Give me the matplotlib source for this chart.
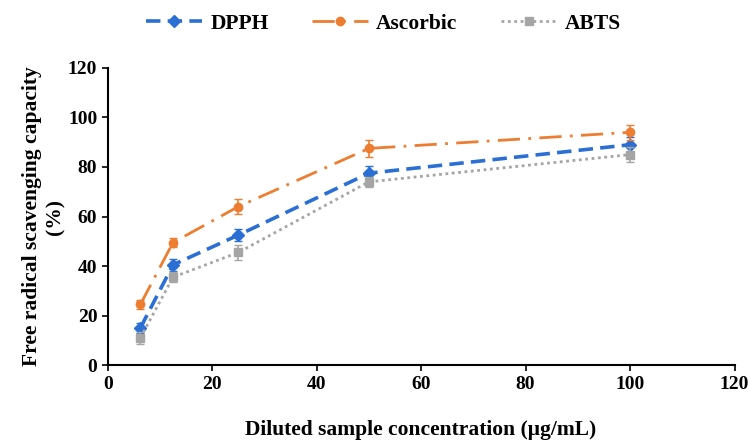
import matplotlib.pyplot as plt

conc = [6.25, 12.5, 25, 50, 100]

dpph = [15, 40.5, 52.5, 77.5, 89]
dpph_err = [2, 2.5, 2.5, 3, 3]
ascorbic = [24.5, 49.5, 64, 87.5, 94]
ascorbic_err = [2, 2, 3, 3.5, 3]
abts = [11, 35.5, 45.5, 74, 85]
abts_err = [2.5, 2, 3, 2, 3]

series = [
    ("DPPH", dpph, dpph_err, "#2b6fd4", (0, (4, 2)), "D"),
    ("Ascorbic", ascorbic, ascorbic_err, "#ed7d31", (0, (8, 3, 1, 3)), "o"),
    ("ABTS", abts, abts_err, "#a5a5a5", (0, (1, 1.3)), "s"),
]


def main():
    plt.rcParams["font.family"] = "Liberation Serif"
    plt.rcParams["font.weight"] = "bold"

    fig = plt.figure(figsize=(7.48, 4.41), dpi=100)
    ax = fig.add_axes([0.144, 0.172, 0.838, 0.674])

    for label, y, err, color, ls, marker in series:
        lw = 2.6 if label == "DPPH" else 2.0
        ax.errorbar(conc, y, yerr=err, fmt="none", ecolor=color,
                    elinewidth=1.2, capsize=3)
        ax.plot(conc, y, color=color, linestyle=ls, linewidth=lw,
                marker=marker, markersize=6, label=label)

    ax.set_xlim(0, 120)
    ax.set_ylim(0, 120)
    ax.set_xticks(range(0, 121, 20))
    ax.set_yticks(range(0, 121, 20))
    ax.spines["top"].set_visible(False)
    ax.spines["right"].set_visible(False)
    for s in ("left", "bottom"):
        ax.spines[s].set_linewidth(1.5)
    ax.tick_params(direction="out", length=4, width=1.2, labelsize=14)
    for t in ax.get_xticklabels() + ax.get_yticklabels():
        t.set_fontweight("bold")

    ax.set_xlabel("Diluted sample concentration (μg/mL)", fontsize=15.5,
                  fontweight="bold", labelpad=20)
    ax.set_ylabel("Free radical scavenging capacity\n(%)", fontsize=15.5,
                  fontweight="bold", labelpad=2)

    ax.legend(loc="lower center", bbox_to_anchor=(0.44, 1.05), ncol=3,
              frameon=False, fontsize=15.5, handlelength=2.6,
              handletextpad=0.4, columnspacing=2.0)

    fig.savefig("out.png", dpi=100)


if __name__ == "__main__":
    main()
